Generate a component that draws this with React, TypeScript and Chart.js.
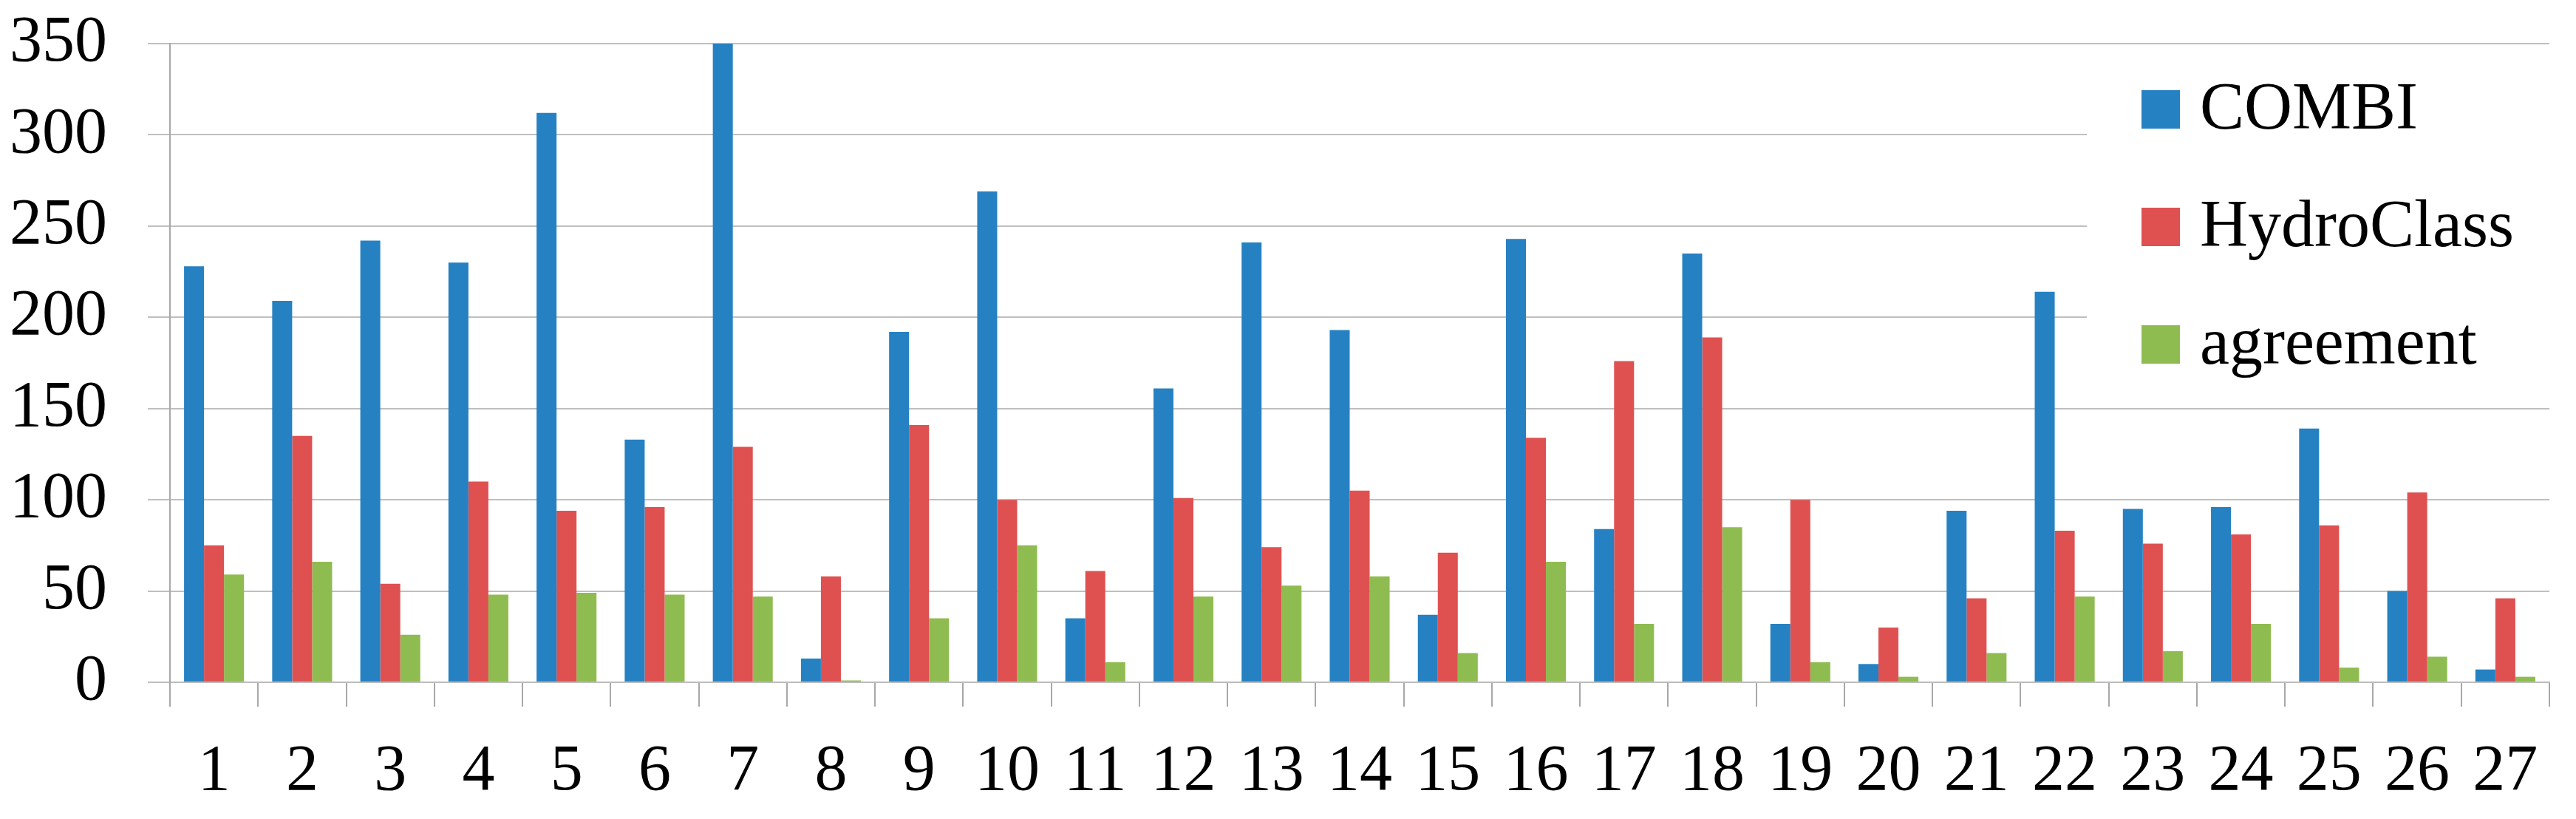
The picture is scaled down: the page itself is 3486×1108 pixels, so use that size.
import React, { useEffect, useRef } from 'react';
import { Chart, registerables } from 'chart.js';

Chart.register(...registerables);

const categories = ['1', '2', '3', '4', '5', '6', '7', '8', '9', '10', '11', '12', '13', '14', '15', '16', '17', '18', '19', '20', '21', '22', '23', '24', '25', '26', '27'];
const seriesNames = ['COMBI', 'HydroClass', 'agreement'];
const combiValues = [228, 209, 242, 230, 312, 133, 350, 13, 192, 269, 35, 161, 241, 193, 37, 243, 84, 235, 32, 10, 94, 214, 95, 96, 139, 50, 7];
const hydroClassValues = [75, 135, 54, 110, 94, 96, 129, 58, 141, 100, 61, 101, 74, 105, 71, 134, 176, 189, 100, 30, 46, 83, 76, 81, 86, 104, 46];
const agreementValues = [59, 66, 26, 48, 49, 48, 47, 1, 35, 75, 11, 47, 53, 58, 16, 66, 32, 85, 11, 3, 16, 47, 17, 32, 8, 14, 3];
const yMin = 0;
const yMax = 350;
const yStep = 50;

const colors = ['#2681C2', '#DF5151', '#8FBC50'];
const FONT = '"Liberation Serif", "Times New Roman", serif';

const insideLegend = {
  id: 'insideLegend',
  afterDraw(chart: any) {
    const { ctx, chartArea } = chart;
    const boxLeft = chartArea.right - 626;
    ctx.save();
    ctx.fillStyle = '#ffffff';
    ctx.fillRect(boxLeft, chartArea.top + 21, chartArea.right - boxLeft + 3, 450);
    ctx.font = `90px ${FONT}`;
    ctx.textBaseline = 'alphabetic';
    ctx.textAlign = 'left';
    chart.data.datasets.forEach((ds: any, i: number) => {
      const rowBottom = chartArea.top + 115 + i * 159;
      ctx.fillStyle = ds.backgroundColor;
      ctx.fillRect(chartArea.right - 552, rowBottom - 52, 52, 52);
      ctx.fillStyle = '#000000';
      ctx.fillText(ds.label, chartArea.right - 473, rowBottom);
    });
    ctx.restore();
  },
};

export default function App() {
  const canvasRef = useRef<HTMLCanvasElement | null>(null);

  useEffect(() => {
    if (!canvasRef.current) return;
    const chart = new Chart(canvasRef.current, {
      type: 'bar',
      data: {
        labels: categories,
        datasets: [
          { label: seriesNames[0], data: combiValues, backgroundColor: colors[0], categoryPercentage: 0.68, barPercentage: 1.0 },
          { label: seriesNames[1], data: hydroClassValues, backgroundColor: colors[1], categoryPercentage: 0.68, barPercentage: 1.0 },
          { label: seriesNames[2], data: agreementValues, backgroundColor: colors[2], categoryPercentage: 0.68, barPercentage: 1.0 },
        ],
      },
      options: {
        animation: false,
        responsive: true,
        maintainAspectRatio: false,
        layout: { padding: { top: 59, right: 36, left: 0, bottom: 0 } },
        plugins: { legend: { display: false }, tooltip: { enabled: false } },
        scales: {
          x: {
            grid: { display: true, drawOnChartArea: false, drawTicks: true, tickLength: 33, color: '#A8A8A8', lineWidth: 2, offset: true },
            border: { display: true, color: '#BDBDBD', width: 2 },
            ticks: { font: { family: FONT, size: 88 }, color: '#000000', padding: 36, maxRotation: 0, autoSkip: false },
            afterFit: (s: any) => { s.height = 185; s.paddingLeft = 0; s.paddingRight = 0; },
          },
          y: {
            min: yMin,
            max: yMax,
            ticks: { stepSize: yStep, font: { family: FONT, size: 88 }, color: '#000000', padding: 55 },
            grid: { color: '#BFBFBF', lineWidth: 2, tickLength: 30 },
            border: { display: true, color: '#A8A8A8', width: 2 },
            afterFit: (s: any) => { s.width = 230; s.paddingTop = 0; s.paddingBottom = 0; },
          },
        },
      },
      plugins: [insideLegend],
    });
    return () => chart.destroy();
  }, []);

  return (
    <div style={{ position: 'absolute', left: 0, top: 0, width: 3486, height: 1108, background: '#ffffff' }}>
      <canvas ref={canvasRef} />
    </div>
  );
}
